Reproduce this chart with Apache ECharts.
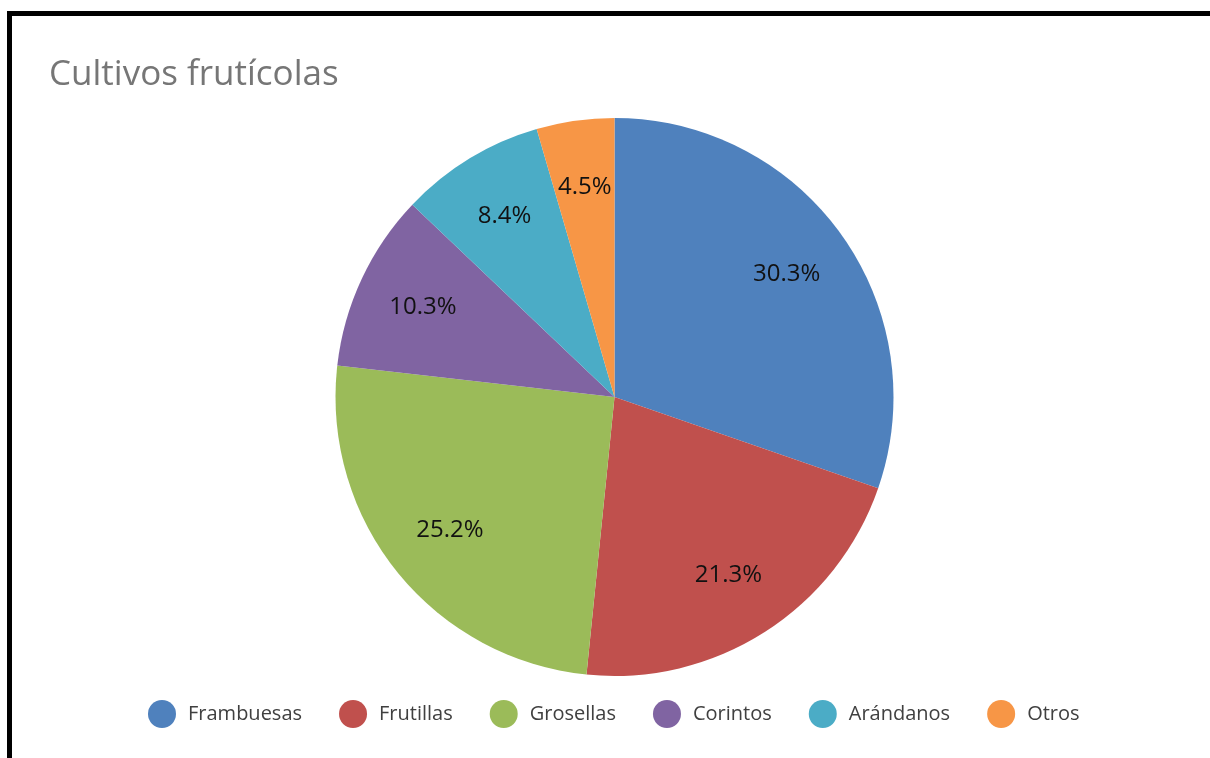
<!DOCTYPE html>
<html>
<head>
<meta charset="utf-8">
<script src="https://cdn.jsdelivr.net/npm/echarts@6/dist/echarts.min.js"></script>
<style>
  html, body { margin: 0; padding: 0; background: #fff; }
  #frame { position: absolute; left: 7px; top: 11px; width: 1400px; height: 900px;
           border-top: 5px solid #000; border-left: 5px solid #000; box-sizing: border-box; }
  #chart { position: absolute; left: 0; top: 0; width: 1210px; height: 758px; }
</style>
</head>
<body>
<div id="frame"></div>
<div id="chart"></div>
<script>
const titleText = 'Cultivos frutícolas';
const categories = ['Frambuesas', 'Frutillas', 'Grosellas', 'Corintos', 'Arándanos', 'Otros'];
const values = [30.3, 21.3, 25.2, 10.3, 8.4, 4.5];
const colors = ['#4F81BD', '#C0504D', '#9BBB59', '#8064A2', '#4BACC6', '#F79646'];

const pieData = categories.map((c, i) => ({ name: c, value: values[i], itemStyle: { color: colors[i] } }));
const labelData = categories.map((c, i) => ({ name: c, value: values[i] }));

const chart = echarts.init(document.getElementById('chart'), null, { renderer: 'canvas' });
chart.setOption({
  animation: false,
  backgroundColor: 'transparent',
  title: {
    text: titleText,
    left: 44, top: 53,
    textStyle: { fontFamily: 'Open Sans', fontWeight: 'normal', fontSize: 35, color: '#767676' }
  },
  legend: {
    data: categories,
    left: 143, top: 695,
    icon: 'circle',
    itemWidth: 28, itemHeight: 28,
    itemGap: 37,
    textStyle: { fontFamily: 'Open Sans', fontSize: 20, color: '#404040', padding: [0, 0, 0, 7] }
  },
  series: [
    {
      type: 'pie',
      center: [614.5, 397],
      radius: [0, 279],
      startAngle: 90,
      clockwise: true,
      silent: true,
      label: { show: false },
      labelLine: { show: false },
      itemStyle: { borderWidth: 0 },
      data: pieData
    },
    {
      type: 'pie',
      center: [614.5, 397],
      radius: [138, 279],
      startAngle: 90,
      clockwise: true,
      silent: true,
      itemStyle: { color: 'rgba(0,0,0,0)' },
      label: {
        show: true, position: 'inside',
        formatter: p => p.value.toFixed(1) + '%',
        fontFamily: 'Open Sans', fontSize: 24, color: '#111111'
      },
      labelLine: { show: false },
      data: labelData
    }
  ]
});
</script>
</body>
</html>
